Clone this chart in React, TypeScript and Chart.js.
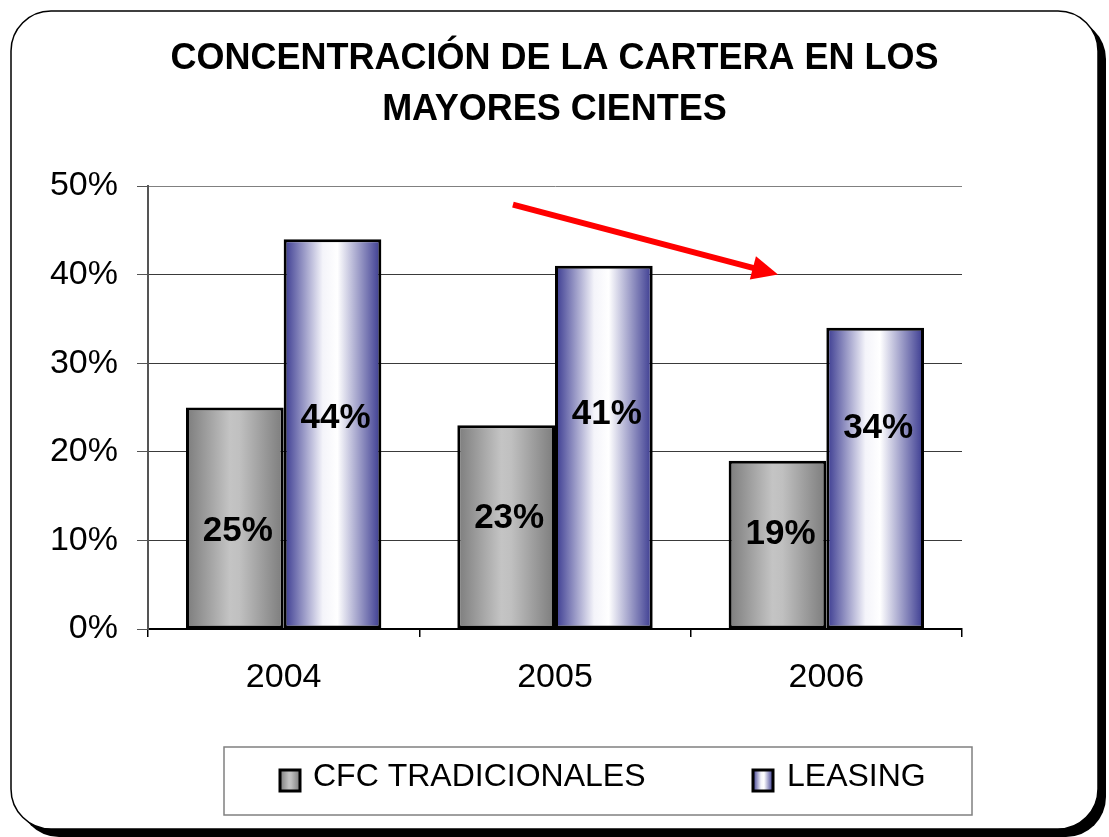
import React, { useEffect, useRef } from "react";
import { Chart, registerables } from "chart.js";

Chart.register(...registerables);

const categories = ["2004", "2005", "2006"];
const cfcValues = [25, 23, 19];
const leasingValues = [44, 41, 34];
const cfcLabelLevels = [11.0, 12.5, 10.7];
const leasingLabelLevels = [23.8, 24.2, 22.7];
const seriesNames = ["CFC TRADICIONALES", "LEASING"];
const titleLines = ["CONCENTRACIÓN DE LA CARTERA EN LOS", "MAYORES CIENTES"];
const yMin = 0;
const yMax = 50;
const yStep = 10;
const arrowFrom = [0.845, 47.9];
const arrowTo = [1.822, 40.0];

const FONT = "'Liberation Sans', Arial, sans-serif";
const CAT_PCT = 0.72;
const GRAY_STOPS: [number, string][] = [
  [0, "#7c7c7c"],
  [0.45, "#c4c4c4"],
  [0.55, "#c0c0c0"],
  [1, "#7c7c7c"],
];
const BLUE_STOPS: [number, string][] = [
  [0, "#38388f"],
  [0.4, "#f4f4fa"],
  [0.55, "#ffffff"],
  [1, "#38388f"],
];

function barGradient(ctx: any, stops: [number, string][]) {
  const chart = ctx.chart;
  const xs = chart.scales && chart.scales.x;
  if (ctx.type !== "data" || !xs || !chart.chartArea) return stops[1][1];
  const catW = xs.width / categories.length;
  const groupW = catW * CAT_PCT;
  const barW = groupW / 2;
  const left = xs.getPixelForValue(ctx.dataIndex) - groupW / 2 + ctx.datasetIndex * barW;
  const g = chart.ctx.createLinearGradient(left, 0, left + barW, 0);
  stops.forEach(([o, c]) => g.addColorStop(o, c));
  return g;
}

function roundRect(c: CanvasRenderingContext2D, x0: number, y0: number, x1: number, y1: number, r: number) {
  c.beginPath();
  c.moveTo(x0 + r, y0);
  c.lineTo(x1 - r, y0);
  c.arcTo(x1, y0, x1, y0 + r, r);
  c.lineTo(x1, y1 - r);
  c.arcTo(x1, y1, x1 - r, y1, r);
  c.lineTo(x0 + r, y1);
  c.arcTo(x0, y1, x0, y1 - r, r);
  c.lineTo(x0, y0 + r);
  c.arcTo(x0, y0, x0 + r, y0, r);
  c.closePath();
}

const framePlugin = {
  id: "frame",
  beforeDraw(chart: any) {
    const c = chart.ctx as CanvasRenderingContext2D;
    c.save();
    c.fillStyle = "#ffffff";
    c.fillRect(0, 0, chart.width, chart.height);
    c.fillStyle = "#000000";
    roundRect(c, 19, 19, 1106, 837, 40);
    c.fill();
    c.fillStyle = "#ffffff";
    roundRect(c, 11, 11, 1098, 829, 40);
    c.fill();
    c.lineWidth = 1.5;
    c.strokeStyle = "#000000";
    c.stroke();
    c.restore();
  },
};

const labelPlugin = {
  id: "barLabels",
  afterDatasetsDraw(chart: any) {
    const c = chart.ctx as CanvasRenderingContext2D;
    const ys = chart.scales.y;
    const levels = [cfcLabelLevels, leasingLabelLevels];
    c.save();
    c.font = `bold 35px ${FONT}`;
    c.fillStyle = "#000000";
    c.textAlign = "center";
    c.textBaseline = "middle";
    chart.data.datasets.forEach((ds: any, di: number) => {
      const meta = chart.getDatasetMeta(di);
      meta.data.forEach((el: any, i: number) => {
        c.fillText(`${ds.data[i]}%`, el.x + 3, ys.getPixelForValue(levels[di][i]));
      });
    });
    c.restore();
  },
};

const arrowPlugin = {
  id: "arrow",
  afterDraw(chart: any) {
    const c = chart.ctx as CanvasRenderingContext2D;
    const xs = chart.scales.x;
    const ys = chart.scales.y;
    const x0 = xs.getPixelForValue(arrowFrom[0]);
    const y0 = ys.getPixelForValue(arrowFrom[1]);
    const x1 = xs.getPixelForValue(arrowTo[0]);
    const y1 = ys.getPixelForValue(arrowTo[1]);
    const ang = Math.atan2(y1 - y0, x1 - x0);
    const headLen = 26;
    const headW = 12;
    const bx = x1 - headLen * Math.cos(ang);
    const by = y1 - headLen * Math.sin(ang);
    c.save();
    c.strokeStyle = "#ff0000";
    c.fillStyle = "#ff0000";
    c.lineWidth = 6;
    c.beginPath();
    c.moveTo(x0, y0);
    c.lineTo(bx + 2 * Math.cos(ang), by + 2 * Math.sin(ang));
    c.stroke();
    c.beginPath();
    c.moveTo(x1, y1);
    c.lineTo(bx - headW * Math.sin(ang), by + headW * Math.cos(ang));
    c.lineTo(bx + headW * Math.sin(ang), by - headW * Math.cos(ang));
    c.closePath();
    c.fill();
    c.restore();
  },
};

const legendPlugin = {
  id: "boxLegend",
  afterDraw(chart: any) {
    const c = chart.ctx as CanvasRenderingContext2D;
    c.save();
    c.strokeStyle = "#808080";
    c.lineWidth = 1.5;
    c.strokeRect(224, 747, 748, 68);
    const items = [
      { x: 280, tx: 313, stops: GRAY_STOPS },
      { x: 753, tx: 787, stops: BLUE_STOPS },
    ];
    items.forEach((it, i) => {
      const g = c.createLinearGradient(it.x, 0, it.x + 20, 0);
      it.stops.forEach(([o, col]) => g.addColorStop(o, col));
      c.fillStyle = g;
      c.fillRect(it.x, 770, 20, 21);
      c.strokeStyle = "#000000";
      c.lineWidth = 3;
      c.strokeRect(it.x, 770, 20, 21);
      c.fillStyle = "#000000";
      c.font = `32px ${FONT}`;
      c.textAlign = "left";
      c.textBaseline = "middle";
      c.fillText(seriesNames[i], it.tx, 777);
    });
    c.restore();
  },
};

export default function App() {
  const ref = useRef<HTMLCanvasElement | null>(null);
  useEffect(() => {
    document.body.style.margin = "0";
    if (!ref.current) return;
    const chart = new Chart(ref.current, {
      type: "bar",
      data: {
        labels: categories,
        datasets: [
          {
            label: seriesNames[0],
            data: cfcValues,
            backgroundColor: (ctx: any) => barGradient(ctx, GRAY_STOPS),
            borderColor: "#000000",
            borderWidth: 3,
            borderSkipped: false,
            categoryPercentage: CAT_PCT,
            barPercentage: 1,
          },
          {
            label: seriesNames[1],
            data: leasingValues,
            backgroundColor: (ctx: any) => barGradient(ctx, BLUE_STOPS),
            borderColor: "#000000",
            borderWidth: 3,
            borderSkipped: false,
            categoryPercentage: CAT_PCT,
            barPercentage: 1,
          },
        ],
      },
      options: {
        responsive: false,
        animation: false,
        layout: { padding: { left: 0, right: 0, top: 0, bottom: 138 } },
        plugins: {
          legend: { display: false },
          tooltip: { enabled: false },
          title: {
            display: true,
            text: titleLines,
            color: "#000000",
            font: { family: FONT, size: 36, weight: "bold", lineHeight: "51px" } as any,
            padding: { top: 34, bottom: 50 },
          },
        },
        scales: {
          x: {
            grid: {
              offset: true,
              drawOnChartArea: true,
              color: (ctx: any) => (ctx.index === categories.length ? "#808080" : "rgba(0,0,0,0)"),
              tickColor: "#000000",
              tickLength: 8,
              lineWidth: 1.5,
            },
            border: { display: true, color: "#000000", width: 2 },
            ticks: { color: "#000000", font: { family: FONT, size: 34 }, padding: 20 },
            afterFit: (s: any) => {
              s.height = 70;
            },
          },
          y: {
            min: yMin,
            max: yMax,
            grid: {
              color: (ctx: any) => (ctx.tick && ctx.tick.value === yMax ? "#808080" : "#3a3a3a"),
              tickColor: "#555555",
              tickLength: 11,
              lineWidth: 1,
            },
            border: { display: true, color: "#555555", width: 2 },
            ticks: {
              stepSize: yStep,
              color: "#000000",
              font: { family: FONT, size: 34 },
              padding: 19,
              callback: (v: any) => `${v}%`,
            },
            afterFit: (s: any) => {
              s.width = 148;
            },
          },
          yRight: {
            type: "linear",
            position: "right",
            display: true,
            grid: { display: false },
            border: { display: false },
            ticks: { display: false },
            afterFit: (s: any) => {
              s.width = 147;
            },
          },
        },
      },
      plugins: [framePlugin, labelPlugin, arrowPlugin, legendPlugin],
    });
    return () => chart.destroy();
  }, []);
  return (
    <div style={{ width: 1109, height: 837 }}>
      <canvas ref={ref} width={1109} height={837} />
    </div>
  );
}
